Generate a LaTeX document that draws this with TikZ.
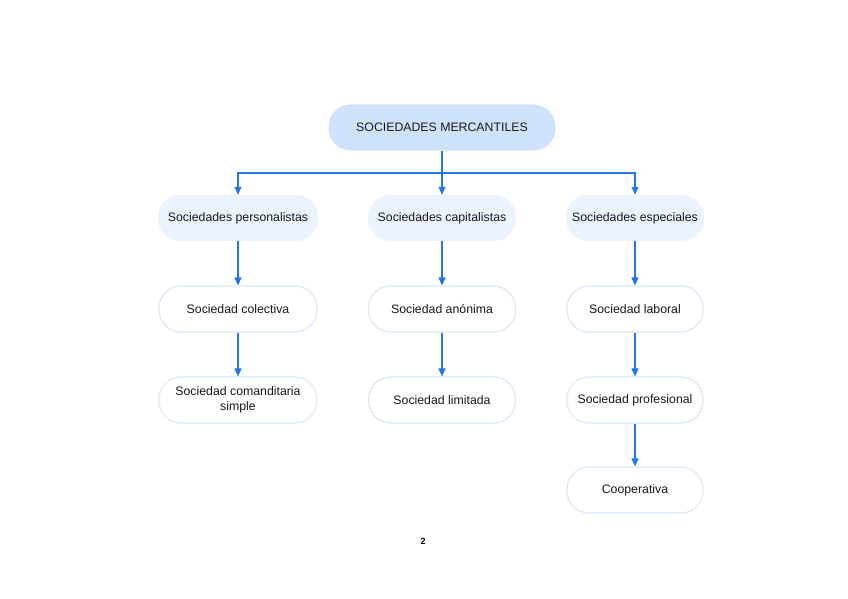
\documentclass[tikz,border=0pt]{standalone}
\usepackage{fontspec}
\setmainfont{Liberation Sans}
\usetikzlibrary{arrows.meta}
\definecolor{rootfill}{HTML}{CFE2FB}
\definecolor{catfill}{HTML}{EAF3FE}
\definecolor{leafline}{HTML}{DAE8FA}
\definecolor{arrowc}{HTML}{2477E6}
\tikzset{
  base/.style={rounded corners=22pt, minimum height=46pt, align=center, font=\fontsize{12.3}{15}\selectfont, text=black!90, inner sep=2pt},
  rootbox/.style={base, fill=rootfill, minimum width=227pt},
  catbox/.style={base, fill=catfill},
  leafbox/.style={base, fill=white, draw=leafline, line width=1.2pt},
  conn/.style={draw=arrowc, line width=1.1pt, -{Triangle[length=8pt,width=7pt]}}
}
\begin{document}
\begin{tikzpicture}[x=1pt,y=-1pt]
\useasboundingbox (0,0) rectangle (848,599);
\node[rootbox] (root) at (442,127.5) {SOCIEDADES MERCANTILES};
\node[catbox, minimum width=160pt] (c1) at (238,218) {Sociedades personalistas};
\node[catbox, minimum width=148pt] (c2) at (442,218) {Sociedades capitalistas};
\node[catbox, minimum width=138pt] (c3) at (635,218) {Sociedades especiales};
\node[leafbox, minimum width=158pt] (a1) at (238,309) {Sociedad colectiva};
\node[leafbox, minimum width=158pt] (a2) at (238,400) {Sociedad comanditaria\\simple};
\node[leafbox, minimum width=147pt] (b1) at (442,309) {Sociedad anónima};
\node[leafbox, minimum width=147pt] (b2) at (442,400) {Sociedad limitada};
\node[leafbox, minimum width=136pt] (d1) at (635,309) {Sociedad laboral};
\node[leafbox, minimum width=136pt] (d2) at (635,400) {Sociedad profesional};
\node[leafbox, minimum width=136pt] (d3) at (635,490) {Cooperativa};
\node[font=\bfseries\fontsize{9}{10}\selectfont] (pg) at (423,541) {2};
\coordinate (bus) at (442,173);
\draw[draw=arrowc, line width=1.1pt] (root.south) -- (bus);
\draw[conn] (bus) -| (c1.north);
\draw[conn] (bus) -- (c2.north);
\draw[conn] (bus) -| (c3.north);
\draw[conn] (c1.south) -- (a1.north);
\draw[conn] (a1.south) -- (a2.north);
\draw[conn] (c2.south) -- (b1.north);
\draw[conn] (b1.south) -- (b2.north);
\draw[conn] (c3.south) -- (d1.north);
\draw[conn] (d1.south) -- (d2.north);
\draw[conn] (d2.south) -- (d3.north);
\end{tikzpicture}
\end{document}
